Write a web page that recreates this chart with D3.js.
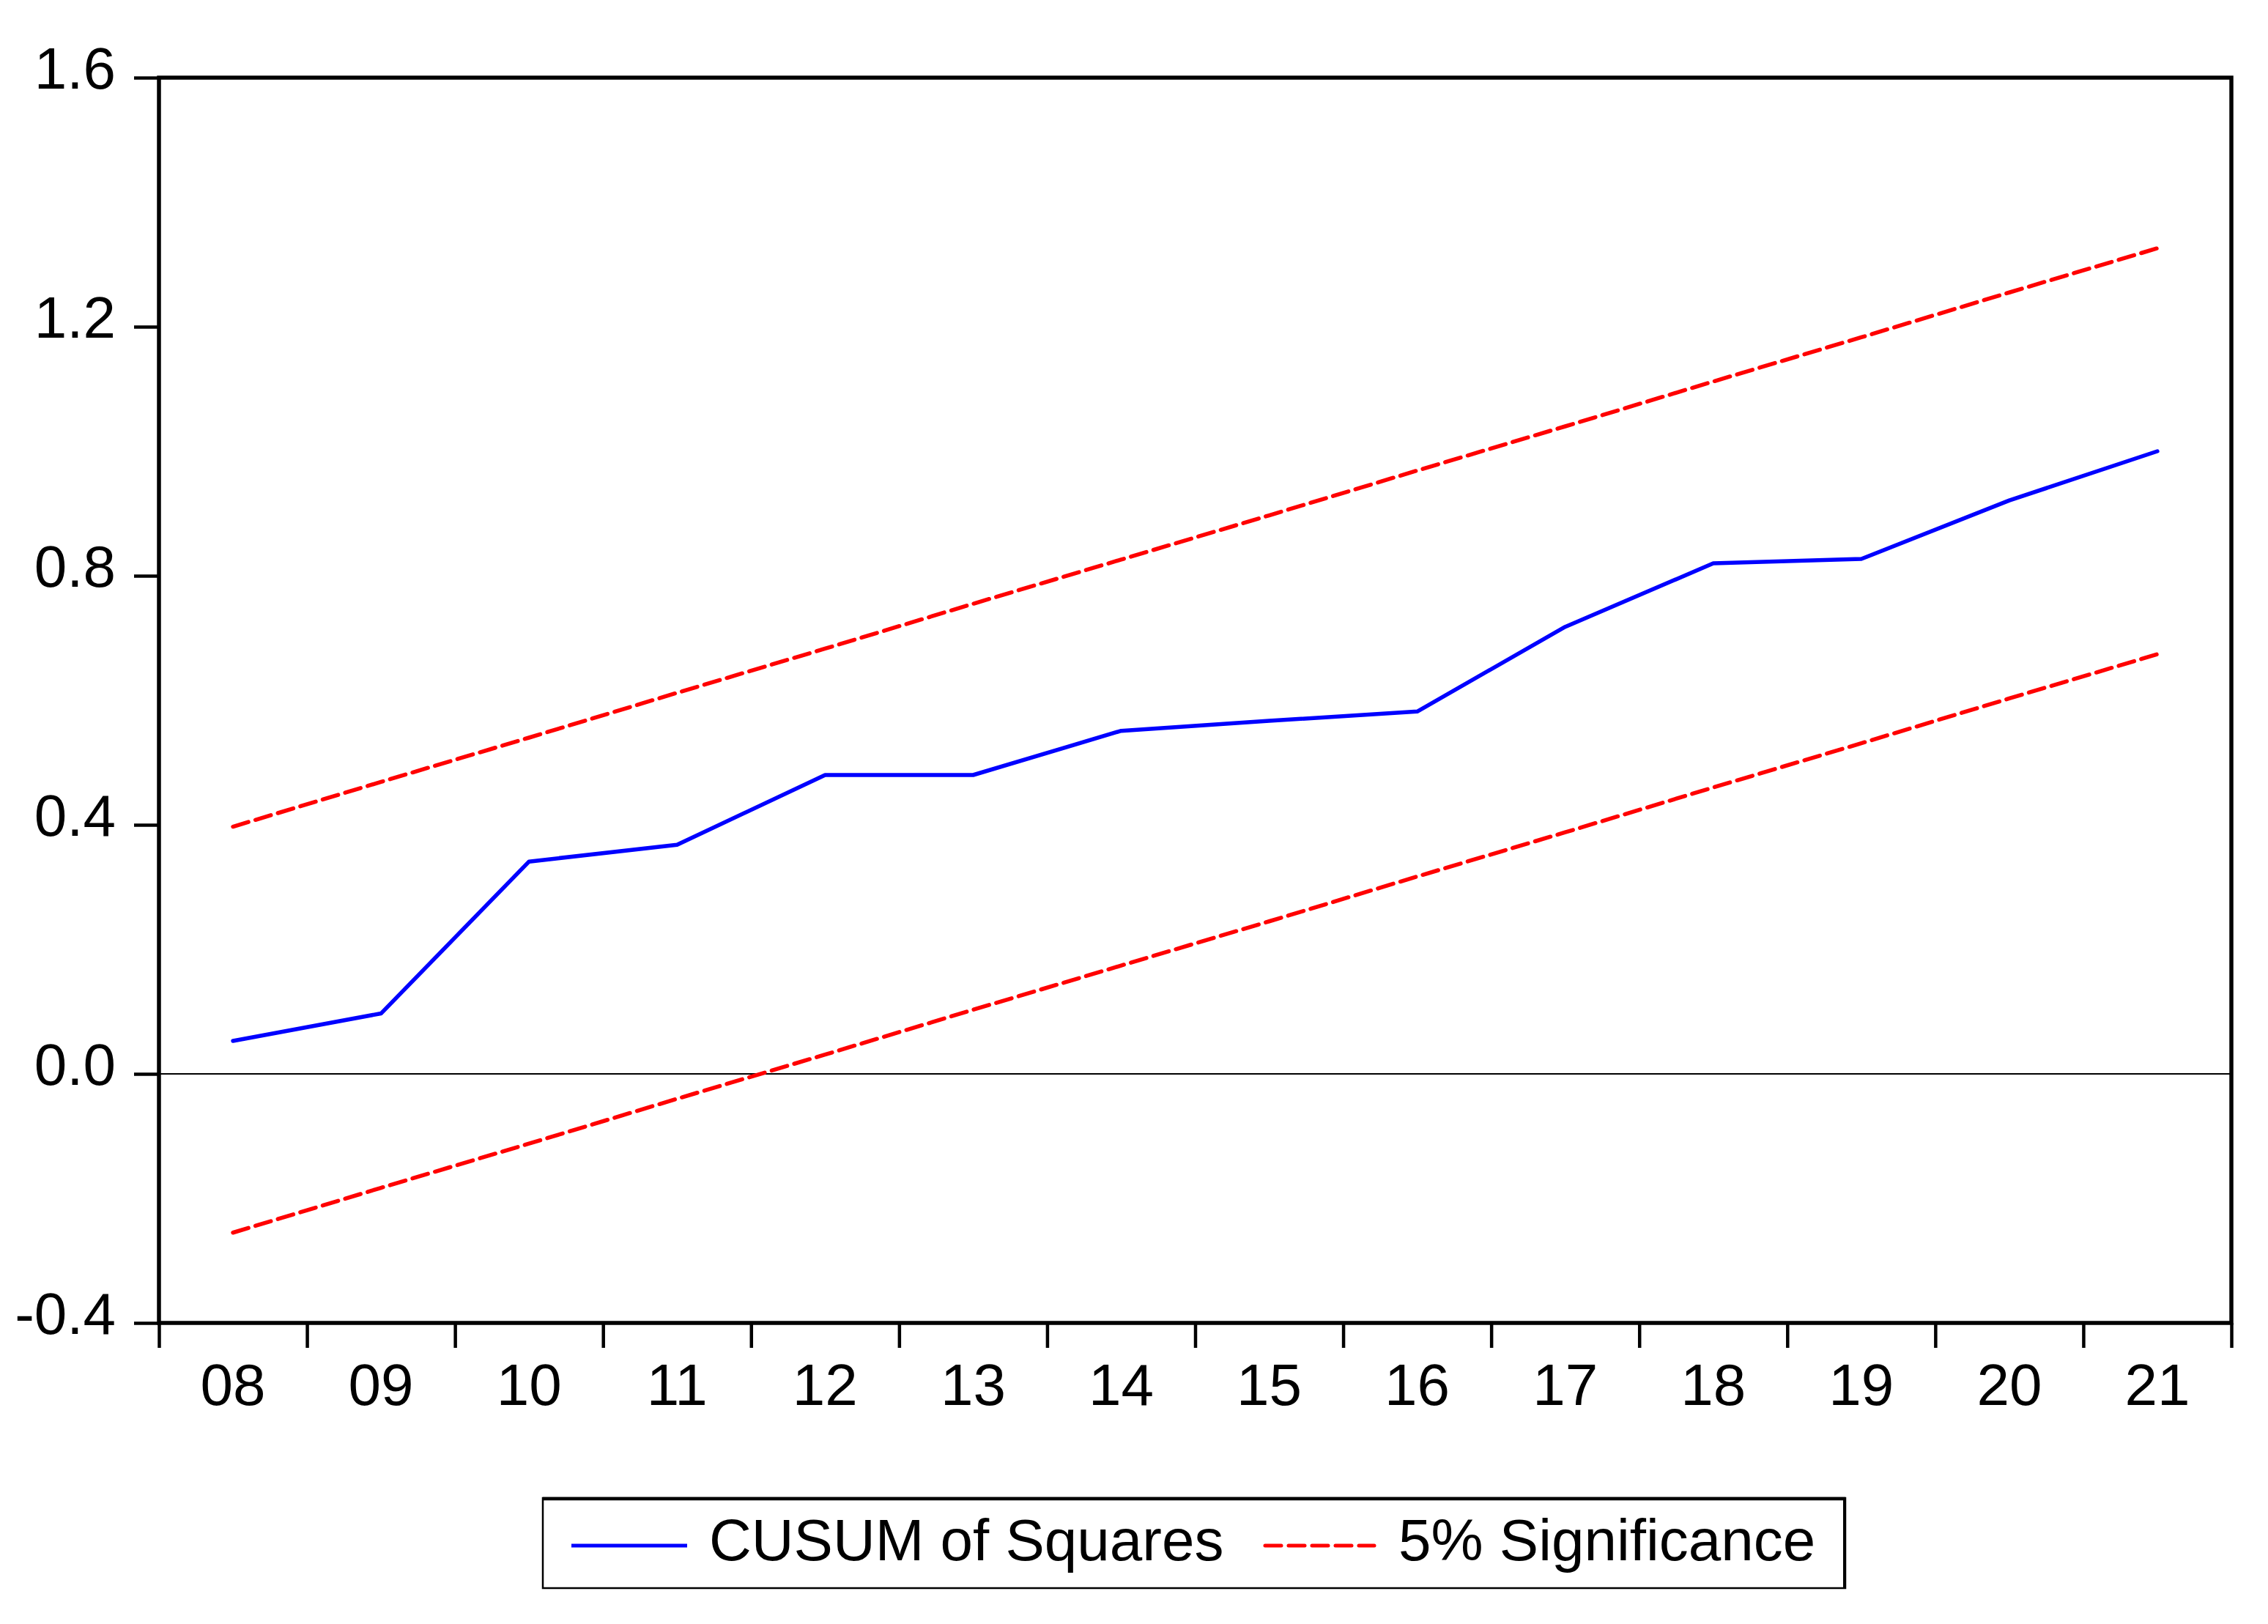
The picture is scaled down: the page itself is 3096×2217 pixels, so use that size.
<!DOCTYPE html>
<html>
<head>
<meta charset="utf-8">
<script src="https://cdn.jsdelivr.net/npm/d3@7"></script>
<style>
  html, body { margin: 0; padding: 0; background: #fff; }
  svg { display: block; }
  text { font-family: "Liberation Sans", Arial, sans-serif; }
</style>
</head>
<body>
<svg id="chart" width="3096" height="2217"></svg>
<script>
// ---- data ----
const categories = ["08","09","10","11","12","13","14","15","16","17","18","19","20","21"];
const cusumSquares = [0.053, 0.097, 0.341, 0.368, 0.480, 0.480, 0.551, 0.567, 0.582, 0.718, 0.820, 0.827, 0.921, 1.000];
const upperBound = [0.397, 0.469, 0.540, 0.612, 0.683, 0.755, 0.826, 0.897, 0.969, 1.040, 1.112, 1.183, 1.255, 1.326];
const lowerBound = [-0.255, -0.183, -0.112, -0.040, 0.031, 0.103, 0.174, 0.245, 0.317, 0.388, 0.460, 0.531, 0.603, 0.674];
const yTicks = [-0.4, 0.0, 0.4, 0.8, 1.2, 1.6];
const legendLabels = ["CUSUM of Squares", "5% Significance"];

// ---- layout ----
const L = 217, R = 3046, T = 106, B = 1806;
const svg = d3.select("#chart");
svg.append("rect").attr("width", 3096).attr("height", 2217).attr("fill", "#fff");

const x = d3.scaleBand().domain(categories).range([L, R]).padding(0);
const xEdges = d3.scaleLinear().domain([0, categories.length]).range([L, R]);
const y = d3.scaleLinear().domain([-0.4, 1.6]).range([B, T]);
const cx = d => x(d) + x.bandwidth() / 2;

// zero line
svg.append("line")
  .attr("x1", L).attr("x2", R).attr("y1", y(0)).attr("y2", y(0))
  .attr("stroke", "#000").attr("stroke-width", 2);

// series
const line = d3.line().x((d, i) => cx(categories[i])).y(d => y(d));
svg.append("path").datum(upperBound).attr("d", line)
  .attr("fill", "none").attr("stroke", "#ff0000").attr("stroke-width", 5.5)
  .attr("stroke-dasharray", "22 10").attr("stroke-linecap", "round");
svg.append("path").datum(lowerBound).attr("d", line)
  .attr("fill", "none").attr("stroke", "#ff0000").attr("stroke-width", 5.5)
  .attr("stroke-dasharray", "22 10").attr("stroke-linecap", "round");
svg.append("path").datum(cusumSquares).attr("d", line)
  .attr("fill", "none").attr("stroke", "#0000ff").attr("stroke-width", 5.5)
  .attr("stroke-linejoin", "round").attr("stroke-linecap", "round");

// frame
svg.append("rect").attr("x", L).attr("y", T).attr("width", R - L).attr("height", B - T)
  .attr("fill", "none").attr("stroke", "#000").attr("stroke-width", 5.5);

// y axis
const yAxis = svg.append("g").attr("transform", `translate(${L},0)`)
  .call(d3.axisLeft(y).tickValues(yTicks).tickSize(34).tickFormat(d => d.toFixed(1)));
yAxis.select(".domain").remove();
yAxis.selectAll(".tick line").attr("stroke", "#000").attr("stroke-width", 4.5);
yAxis.selectAll(".tick text")
  .attr("x", -59).attr("dy", null).attr("y", 14)
  .attr("font-size", 80).attr("fill", "#000")
  .attr("font-family", "'Liberation Sans', Arial, sans-serif");

// x axis: boundary ticks
const xTickAxis = svg.append("g").attr("transform", `translate(0,${B})`)
  .call(d3.axisBottom(xEdges).tickValues(d3.range(categories.length + 1)).tickSize(34).tickFormat(""));
xTickAxis.select(".domain").remove();
xTickAxis.selectAll(".tick line").attr("stroke", "#000").attr("stroke-width", 4.5);

// x axis: labels centred in bands
const xLab = svg.append("g").attr("transform", `translate(0,${B})`)
  .call(d3.axisBottom(x).tickSize(0));
xLab.select(".domain").remove();
xLab.selectAll(".tick text")
  .attr("dy", null).attr("y", 112)
  .attr("font-size", 80).attr("fill", "#000")
  .attr("font-family", "'Liberation Sans', Arial, sans-serif");

// legend
const lg = svg.append("g");
lg.append("rect").attr("x", 741).attr("y", 2045).attr("width", 2519 - 741).attr("height", 2168 - 2045)
  .attr("fill", "#fff").attr("stroke", "#000").attr("stroke-width", 2.5);
lg.append("line").attr("x1", 741).attr("x2", 2519).attr("y1", 2046).attr("y2", 2046)
  .attr("stroke", "#000").attr("stroke-width", 4.5);
lg.append("line").attr("x1", 2518).attr("x2", 2518).attr("y1", 2045).attr("y2", 2168)
  .attr("stroke", "#000").attr("stroke-width", 4);
lg.append("line").attr("x1", 780).attr("x2", 938).attr("y1", 2110).attr("y2", 2110)
  .attr("stroke", "#0000ff").attr("stroke-width", 5);
lg.append("text").attr("x", 968).attr("y", 2130).attr("font-size", 80).attr("fill", "#000")
  .text(legendLabels[0]);
lg.append("line").attr("x1", 1727).attr("x2", 1876).attr("y1", 2110).attr("y2", 2110)
  .attr("stroke", "#ff0000").attr("stroke-width", 5)
  .attr("stroke-dasharray", "22 10").attr("stroke-linecap", "round");
lg.append("text").attr("x", 1909).attr("y", 2130).attr("font-size", 80).attr("fill", "#000")
  .text(legendLabels[1]);
</script>
</body>
</html>
